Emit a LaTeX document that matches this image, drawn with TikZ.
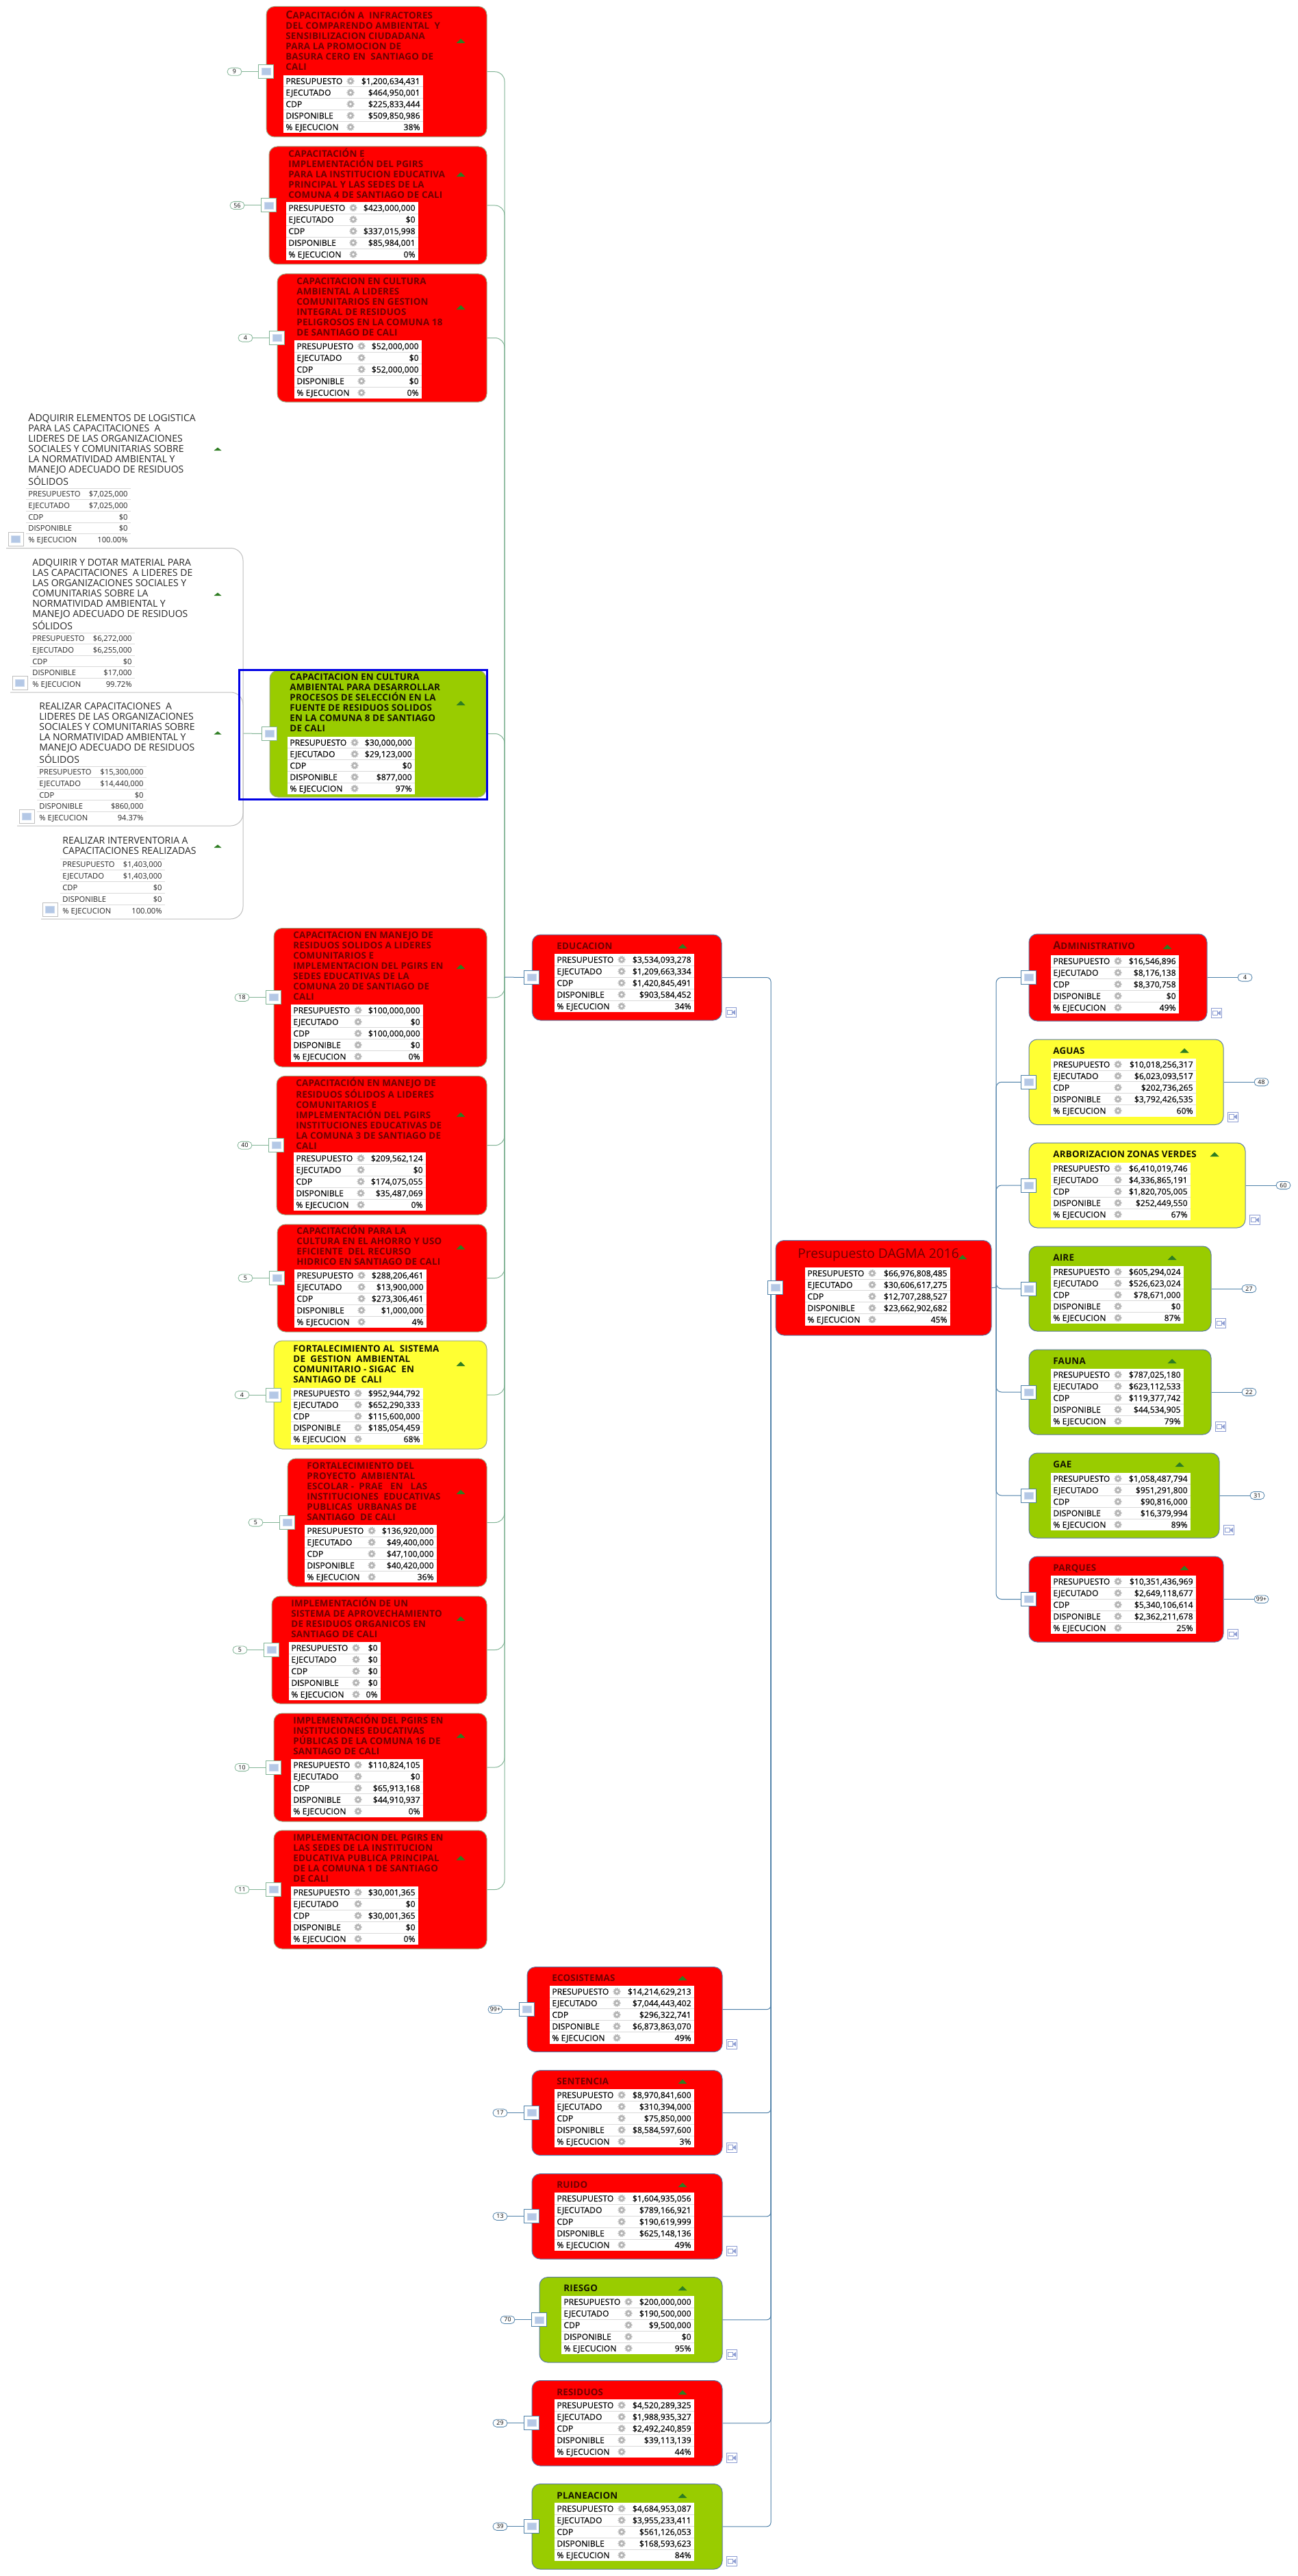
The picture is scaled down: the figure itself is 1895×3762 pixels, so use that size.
\documentclass[tikz,border=0pt]{standalone}
\usepackage{fontspec}
\setmainfont{Open Sans}
\newfontfamily\rowbold[FakeBold=0.3]{Open Sans}
\newfontfamily\titbold[LetterSpace=1.5]{Open Sans}
\usetikzlibrary{fit,backgrounds}
\definecolor{cred}{HTML}{FF0000}
\definecolor{cgreen}{HTML}{99CC00}
\definecolor{cyellow}{HTML}{FFFF33}
\definecolor{lnkG}{HTML}{82B496}
\definecolor{lnkB}{HTML}{4F81A9}
\definecolor{bordG}{HTML}{9CA884}
\definecolor{bordB}{HTML}{5A7AA6}
\definecolor{grayl}{HTML}{BEBEBE}
\definecolor{sepc}{HTML}{D9D9D9}
\definecolor{gearc}{HTML}{B5B5B5}
\definecolor{titred}{HTML}{6E0000}
\definecolor{titblk}{HTML}{141400}
\definecolor{caretc}{HTML}{2E7D22}
\definecolor{iconc}{HTML}{B4C8E6}
\definecolor{vidc}{HTML}{8C9CD2}
\colorlet{branch}{lnkG}
\colorlet{bordc}{bordG}
\tikzset{
 x=0.5pt,y=-0.5pt,
 cardbox/.style={draw=bordc,line width=0.5pt,rounded corners=6pt,inner sep=0pt},
 redcard/.style={cardbox,fill=cred},
 greencard/.style={cardbox,fill=cgreen},
 yellowcard/.style={cardbox,fill=cyellow},
 handlebox/.style={draw=branch,fill=white,line width=0.5pt,minimum width=11pt,minimum height=10pt,inner sep=0pt},
 handleicon/.style={fill=iconc,draw=iconc!70!white,line width=0.3pt,minimum width=6.5pt,minimum height=5pt,inner sep=0pt},
 bubblebox/.style={draw=branch,fill=white,line width=0.4pt,rounded corners=2.8pt,minimum width=10.5pt,minimum height=5.6pt,inner sep=0pt,font=\fontsize{4.4pt}{5pt}\selectfont},
 lnk/.style={draw=branch,line width=0.5pt},
 lnkcurve/.style={lnk,rounded corners=7pt},
 lnkcorner/.style={lnk,rounded corners=3pt},
 graylnk/.style={draw=grayl,line width=0.5pt,rounded corners=9pt},
 titletext/.style={anchor=north west,align=left,inner sep=0pt,font=\fontsize{6.7pt}{7.5pt}\titbold\bfseries},
 redt/.style={titletext,text=titred},
 blackt/.style={titletext,text=titblk},
 plaint/.style={titletext,text=black!85,font=\fontsize{7pt}{7.5pt}\selectfont},
 rowlab/.style={anchor=base west,inner sep=0pt,font=\fontsize{6.1pt}{7pt}\rowbold,text=black},
 rowval/.style={anchor=base east,inner sep=0pt,font=\fontsize{6.1pt}{7pt}\rowbold,text=black},
 rowlabp/.style={anchor=base west,inner sep=0pt,font=\fontsize{5.6pt}{7pt}\selectfont,text=black!85},
 rowvalp/.style={anchor=base east,inner sep=0pt,font=\fontsize{5.6pt}{7pt}\selectfont,text=black!85},
 selbox/.style={draw=blue!90!black,line width=1.5pt,inner sep=0pt},
 vidbox/.style={draw=vidc,fill=white,line width=0.5pt,minimum width=7.5pt,minimum height=7pt,inner sep=0pt},
}
\newif\ifgear
\newcommand{\BigL}[1]{{\fontsize{8pt}{7.5pt}\selectfont #1}}
\newcommand{\RowOne}[3]{%
 \pgfmathsetmacro\rc{\ty+(#1-0.5)*\rh}
 \pgfmathsetmacro\rb{\rc+4.5}
 \ifgear
  \node[rowlab] (\tid-l#1) at (\tl+3,\rb) {#2};
  \node[rowval] (\tid-v#1) at (\tr-4,\rb) {#3};
  \fill[gearc] (\tl+98,\rc) circle (2.3pt);
  \draw[gearc,line width=0.5pt,dash pattern=on 0.8pt off 0.7pt] (\tl+98,\rc) circle (2.55pt);
  \fill[white] (\tl+98,\rc) circle (0.9pt);
 \else
  \node[rowlabp] (\tid-l#1) at (\tl+3,\rb) {#2};
  \node[rowvalp] (\tid-v#1) at (\tr-4,\rb) {#3};
 \fi
 \ifnum#1<5
  \draw[sepc,line width=0.4pt] (\tl,\rc+0.5*\rh) -- (\tr,\rc+0.5*\rh);
 \fi
}
\def\RowFive#1|#2|#3|#4|#5\relax{%
 \RowOne{1}{PRESUPUESTO}{#1}
 \RowOne{2}{EJECUTADO}{#2}
 \RowOne{3}{CDP}{#3}
 \RowOne{4}{DISPONIBLE}{#4}
 \RowOne{5}{\% EJECUCION}{#5}
}
% id, x0,x1,y0,y1, values
\newcommand{\Tbl}[6]{%
 \def\tid{#1}\def\tl{#2}\def\tr{#3}\def\ty{#4}
 \pgfmathsetmacro\rh{(#5-#4)/5}
 \ifgear\fill[white] (#2,#4) rectangle (#3,#5);\else
  \draw[sepc,line width=0.4pt] (#2,#4) -- (#3,#4);\fi
 \RowFive#6\relax
}
% id, style, x0,y0,x1,y1, caretx, carety
\newcommand{\Card}[8]{%
 \node[#2,fit={(#3,#4)(#5,#6)}] (#1) {};
 \node[handlebox] (#1-h) at (#1.west) {};
 \node[handleicon] (#1-i) at (#1-h) {};
 \fill[caretc] (#7-6.5,#8+3) -- (#7,#8-3.5) -- (#7+6.5,#8+3) -- cycle;
}
% id, style, x, y of first line centre, text
\newcommand{\Title}[5]{\node[#2] (#1-t) at (#3,#4-11) {\rule{0pt}{8pt}#5};}
\newcommand{\BubL}[2]{%
 \node[bubblebox] (#1-b) at ([xshift=-23pt]#1.west) {#2};
 \draw[lnk] (#1-b) -- (#1-h);
}
\newcommand{\BubR}[2]{%
 \node[bubblebox] (#1-b) at ([xshift=27.5pt]#1.east) {#2};
 \draw[lnk] (#1.east) -- (#1-b);
}
\newcommand{\Vid}[1]{%
 \node[vidbox] (#1-vi) at ([xshift=6.5pt,yshift=6pt]#1.south east) {};
 \draw[vidc,line width=0.5pt] ([xshift=-2.6pt,yshift=-1.6pt]#1-vi.center) rectangle ([xshift=0.8pt,yshift=1.6pt]#1-vi.center);
 \fill[vidc] ([xshift=0.8pt]#1-vi.center) -- ([xshift=3.2pt,yshift=1.8pt]#1-vi.center) -- ([xshift=3.2pt,yshift=-1.8pt]#1-vi.center) -- cycle;
}
% left free item: id, title x, first line y, caret y, table x0,x1,y0,y1, text
\newcommand{\Item}[9]{%
 \Title{#1}{plaint}{#2}{#3}{#9}
 \fill[caretc] (318-5.5,#4+2) -- (318,#4-2.5) -- (318+5.5,#4+2) -- cycle;
 \node[handlebox,draw=grayl] (#1-h) at (#5-15,#8-9.5) {};
 \node[handleicon] (#1-i) at (#1-h) {};
}
\begin{document}
\begin{tikzpicture}
\begin{pgfonlayer}{background}
\fill[white] (0,0) rectangle (1895,3762);
\end{pgfonlayer}
\path[use as bounding box] (0,0) rectangle (1895,3762);
\geartrue
%% left green branch
\Card{c1}{redcard}{389}{9.5}{711}{200}{673}{60}
\Title{c1}{redt}{417}{21.7}{\BigL{C}APACITACIÓN A\ \ INFRACTORES\\DEL COMPARENDO AMBIENTAL\ \ Y\\SENSIBILIZACION CIUDADANA\\PARA LA PROMOCION DE\\BASURA CERO EN\ \ SANTIAGO DE\\CALI}
\Tbl{c1}{414}{618}{110}{194}{\$1,200,634,431|\$464,950,001|\$225,833,444|\$509,850,986|38\%}
\BubL{c1}{9}
\Card{c2}{redcard}{393}{214}{711}{386}{673}{255}
\Title{c2}{redt}{421}{224}{CAPACITACIÓN E\\IMPLEMENTACIÓN DEL PGIRS\\PARA LA INSTITUCION EDUCATIVA\\PRINCIPAL Y LAS SEDES DE LA\\COMUNA 4 DE SANTIAGO DE CALI}
\Tbl{c2}{418}{611}{295}{380}{\$423,000,000|\$0|\$337,015,998|\$85,984,001|0\%}
\BubL{c2}{56}
\Card{c3}{redcard}{405}{400}{711}{587}{673}{449}
\Title{c3}{redt}{433}{410}{CAPACITACION EN CULTURA\\AMBIENTAL A LIDERES\\COMUNITARIOS EN GESTION\\INTEGRAL DE RESIDUOS\\PELIGROSOS EN LA COMUNA 18\\DE SANTIAGO DE CALI}
\Tbl{c3}{430}{616}{497}{582}{\$52,000,000|\$0|\$52,000,000|\$0|0\%}
\BubL{c3}{4}
\Card{c4}{greencard}{394}{979}{710}{1164}{673}{1027}
\Title{c4}{blackt}{423}{988}{CAPACITACION EN CULTURA\\AMBIENTAL PARA DESARROLLAR\\PROCESOS DE SELECCIÓN EN LA\\FUENTE DE RESIDUOS SOLIDOS\\EN LA COMUNA 8 DE SANTIAGO\\DE CALI}
\Tbl{c4}{420}{606}{1076}{1160}{\$30,000,000|\$29,123,000|\$0|\$877,000|97\%}
\node[selbox,fit={(349,978)(711,1167)}] (sel) {};
\Card{c5}{redcard}{400}{1355.5}{711}{1558}{673}{1412}
\Title{c5}{redt}{428}{1365}{CAPACITACION EN MANEJO DE\\RESIDUOS SOLIDOS A LIDERES\\COMUNITARIOS E\\IMPLEMENTACION DEL PGIRS EN\\SEDES EDUCATIVAS DE LA\\COMUNA 20 DE SANTIAGO DE\\CALI}
\Tbl{c5}{425}{618}{1467}{1551.4}{\$100,000,000|\$0|\$100,000,000|\$0|0\%}
\BubL{c5}{18}
\Card{c6}{redcard}{404}{1571.4}{711}{1774}{673}{1628}
\Title{c6}{redt}{432}{1581}{CAPACITACIÓN EN MANEJO DE\\RESIDUOS SÓLIDOS A LIDERES\\COMUNITARIOS E\\IMPLEMENTACIÓN DEL PGIRS\\INSTITUCIONES EDUCATIVAS DE\\LA COMUNA 3 DE SANTIAGO DE\\CALI}
\Tbl{c6}{429}{622}{1683}{1768}{\$209,562,124|\$0|\$174,075,055|\$35,487,069|0\%}
\BubL{c6}{40}
\Card{c7}{redcard}{405}{1788}{711}{1945}{673}{1821.6}
\Title{c7}{redt}{433}{1797}{CAPACITACIÓN PARA LA\\CULTURA EN EL AHORRO Y USO\\EFICIENTE\ \ DEL RECURSO\\HIDRICO EN SANTIAGO DE CALI}
\Tbl{c7}{430}{623}{1854}{1939}{\$288,206,461|\$13,900,000|\$273,306,461|\$1,000,000|4\%}
\BubL{c7}{5}
\Card{c8}{yellowcard}{400}{1958}{711}{2116}{673}{1992}
\Title{c8}{blackt}{428}{1968.6}{FORTALECIMIENTO AL\ \ SISTEMA\\DE\ \ GESTION\ \ AMBIENTAL\\COMUNITARIO - SIGAC\ \ EN\\SANTIAGO DE\ \ CALI}
\Tbl{c8}{425}{618}{2026.5}{2110}{\$952,944,792|\$652,290,333|\$115,600,000|\$185,054,459|68\%}
\BubL{c8}{4}
\Card{c9}{redcard}{420}{2130}{711}{2317}{673}{2179}
\Title{c9}{redt}{448}{2139.6}{FORTALECIMIENTO DEL\\PROYECTO\ \ AMBIENTAL\\ESCOLAR -\ \ PRAE\ \ \ EN\ \ \ LAS\\INSTITUCIONES\ \ EDUCATIVAS\\PUBLICAS\ \ URBANAS DE\\SANTIAGO\ \ DE CALI}
\Tbl{c9}{445}{638}{2227}{2311.4}{\$136,920,000|\$49,400,000|\$47,100,000|\$40,420,000|36\%}
\BubL{c9}{5}
\Card{c10}{redcard}{397}{2331}{711}{2488}{673}{2364}
\Title{c10}{redt}{425}{2341}{IMPLEMENTACIÓN DE UN\\SISTEMA DE APROVECHAMIENTO\\DE RESIDUOS ORGANICOS EN\\SANTIAGO DE CALI}
\Tbl{c10}{422}{556}{2398}{2483}{\$0|\$0|\$0|\$0|0\%}
\BubL{c10}{5}
\Card{c11}{redcard}{400}{2502}{711}{2660}{673}{2535}
\Title{c11}{redt}{428}{2512}{IMPLEMENTACIÓN DEL PGIRS EN\\INSTITUCIONES EDUCATIVAS\\PÚBLICAS DE LA COMUNA 16 DE\\SANTIAGO DE CALI}
\Tbl{c11}{425}{618}{2569}{2653.6}{\$110,824,105|\$0|\$65,913,168|\$44,910,937|0\%}
\BubL{c11}{10}
\Card{c12}{redcard}{400}{2673}{711}{2846}{673}{2713.6}
\Title{c12}{redt}{428}{2683}{IMPLEMENTACION DEL PGIRS EN\\LAS SEDES DE LA INSTITUCION\\EDUCATIVA PUBLICA PRINCIPAL\\DE LA COMUNA 1 DE SANTIAGO\\DE CALI}
\Tbl{c12}{425}{611}{2755}{2840}{\$30,001,365|\$0|\$30,001,365|\$0|0\%}
\BubL{c12}{11}
\coordinate (jG) at (737,1427);
\coordinate (jL) at (355,1071);
\begin{pgfonlayer}{background}
\foreach \n in {c1,c2,c3,c4,c5,c6,c7,c8,c9,c10,c11,c12} {\draw[lnkcurve] (\n.east) -| (jG);}
\draw[lnk] (c4-h.west) -- (jL);
\end{pgfonlayer}
%% free left items
\gearfalse
\Item{la}{41}{610}{656}{38}{191}{713}{796.5}{\BigL{A}DQUIRIR ELEMENTOS DE LOGISTICA\\PARA LAS CAPACITACIONES\ \ A\\LIDERES DE LAS ORGANIZACIONES\\SOCIALES Y COMUNITARIAS SOBRE\\LA NORMATIVIDAD AMBIENTAL Y\\MANEJO ADECUADO DE RESIDUOS\\SÓLIDOS}
\Tbl{la}{38}{191}{713}{796.5}{\$7,025,000|\$7,025,000|\$0|\$0|100.00\%}
\Item{lb}{47}{821}{868}{44}{197}{924}{1007}{ADQUIRIR Y DOTAR MATERIAL PARA\\LAS CAPACITACIONES\ \ A LIDERES DE\\LAS ORGANIZACIONES SOCIALES Y\\COMUNITARIAS SOBRE LA\\NORMATIVIDAD AMBIENTAL Y\\MANEJO ADECUADO DE RESIDUOS\\SÓLIDOS}
\Tbl{lb}{44}{197}{924}{1007}{\$6,272,000|\$6,255,000|\$0|\$17,000|99.72\%}
\Item{lc}{57}{1031}{1070.6}{54}{214}{1119}{1202}{REALIZAR CAPACITACIONES\ \ A\\LIDERES DE LAS ORGANIZACIONES\\SOCIALES Y COMUNITARIAS SOBRE\\LA NORMATIVIDAD AMBIENTAL Y\\MANEJO ADECUADO DE RESIDUOS\\SÓLIDOS}
\Tbl{lc}{54}{214}{1119}{1202}{\$15,300,000|\$14,440,000|\$0|\$860,000|94.37\%}
\Item{ld}{91}{1227}{1236}{88}{241}{1254}{1338}{REALIZAR INTERVENTORIA A\\CAPACITACIONES REALIZADAS}
\Tbl{ld}{88}{241}{1254}{1338}{\$1,403,000|\$1,403,000|\$0|\$0|100.00\%}
\coordinate (la-u) at (9,800.5);
\coordinate (lb-u) at (15,1011);
\coordinate (lc-u) at (25,1206);
\coordinate (ld-u) at (60,1342);
\begin{pgfonlayer}{background}
\foreach \n in {la,lb,lc,ld} {\draw[graylnk] (\n-u) -| (jL);}
\end{pgfonlayer}
%% blue branches
\geartrue
\colorlet{branch}{lnkB}
\colorlet{bordc}{bordB}
\Card{edu}{redcard}{777.4}{1365}{1054}{1490}{997}{1382}
\Title{edu}{redt}{813}{1381}{EDUCACION}
\Tbl{edu}{810}{1014}{1393}{1478}{\$3,534,093,278|\$1,209,663,334|\$1,420,845,491|\$903,584,452|34\%}
\Vid{edu}
\Card{root}{redcard}{1133}{1811.5}{1448}{1950}{1406}{1836}
\node[redt,font=\fontsize{9.6pt}{10pt}\selectfont] (root-t) at (1165,1823) {Presupuesto DAGMA 2016};
\Tbl{root}{1176}{1388}{1851}{1935.5}{\$66,976,808,485|\$30,606,617,275|\$12,707,288,527|\$23,662,902,682|45\%}
%% lower cards
\Card{e1}{redcard}{770}{2872.6}{1055}{2996.6}{997}{2889}
\Title{e1}{redt}{806}{2888}{ECOSISTEMAS}
\Tbl{e1}{803}{1014}{2900}{2984.6}{\$14,214,629,213|\$7,044,443,402|\$296,322,741|\$6,873,863,070|49\%}
\BubL{e1}{99+}\Vid{e1}
\Card{e2}{redcard}{777}{3023.6}{1055}{3147.6}{997}{3040}
\Title{e2}{redt}{813}{3039}{SENTENCIA}
\Tbl{e2}{810}{1014}{3051}{3136}{\$8,970,841,600|\$310,394,000|\$75,850,000|\$8,584,597,600|3\%}
\BubL{e2}{17}\Vid{e2}
\Card{e3}{redcard}{777}{3174.6}{1055}{3299}{997}{3191}
\Title{e3}{redt}{813}{3190}{RUIDO}
\Tbl{e3}{810}{1014}{3202}{3287}{\$1,604,935,056|\$789,166,921|\$190,619,999|\$625,148,136|49\%}
\BubL{e3}{13}\Vid{e3}
\Card{e4}{greencard}{788}{3325.6}{1055}{3450}{997}{3342}
\Title{e4}{blackt}{823}{3341}{RIESGO}
\Tbl{e4}{820}{1014}{3353}{3438}{\$200,000,000|\$190,500,000|\$9,500,000|\$0|95\%}
\BubL{e4}{70}\Vid{e4}
\Card{e5}{redcard}{777}{3476.5}{1055}{3601}{997}{3494}
\Title{e5}{redt}{813}{3492.6}{RESIDUOS}
\Tbl{e5}{810}{1014}{3504}{3589}{\$4,520,289,325|\$1,988,935,327|\$2,492,240,859|\$39,113,139|44\%}
\BubL{e5}{29}\Vid{e5}
\Card{e6}{greencard}{777}{3627.5}{1055}{3752}{997}{3645}
\Title{e6}{blackt}{813}{3643.6}{PLANEACION}
\Tbl{e6}{810}{1014}{3655}{3740}{\$4,684,953,087|\$3,955,233,411|\$561,126,053|\$168,593,623|84\%}
\BubL{e6}{39}\Vid{e6}
%% right cards
\Card{a1}{redcard}{1503}{1364}{1763}{1491}{1705}{1383}
\Title{a1}{redt}{1538}{1381.5}{\BigL{A}DMINISTRATIVO}
\Tbl{a1}{1535}{1722}{1395}{1480}{\$16,546,896|\$8,176,138|\$8,370,758|\$0|49\%}
\BubR{a1}{4}\Vid{a1}
\Card{a2}{yellowcard}{1503}{1518}{1787}{1642.5}{1730}{1534.5}
\Title{a2}{blackt}{1538}{1534}{AGUAS}
\Tbl{a2}{1535}{1747}{1546}{1630.6}{\$10,018,256,317|\$6,023,093,517|\$202,736,265|\$3,792,426,535|60\%}
\BubR{a2}{48}\Vid{a2}
\Card{a3}{yellowcard}{1503}{1669}{1819}{1793}{1774}{1686}
\Title{a3}{blackt}{1538}{1685}{ARBORIZACION ZONAS VERDES}
\Tbl{a3}{1535}{1739}{1698}{1782}{\$6,410,019,746|\$4,336,865,191|\$1,820,705,005|\$252,449,550|67\%}
\BubR{a3}{60}\Vid{a3}
\Card{a4}{greencard}{1503}{1820}{1769}{1944}{1712}{1837}
\Title{a4}{blackt}{1538}{1836}{AIRE}
\Tbl{a4}{1535}{1729}{1849}{1933}{\$605,294,024|\$526,623,024|\$78,671,000|\$0|87\%}
\BubR{a4}{27}\Vid{a4}
\Card{a5}{greencard}{1503}{1971}{1769}{2095}{1712}{1988}
\Title{a5}{blackt}{1538}{1987}{FAUNA}
\Tbl{a5}{1535}{1729}{1999}{2084}{\$787,025,180|\$623,112,533|\$119,377,742|\$44,534,905|79\%}
\BubR{a5}{22}\Vid{a5}
\Card{a6}{greencard}{1503}{2122}{1781}{2246}{1723}{2139}
\Title{a6}{blackt}{1538}{2138}{GAE}
\Tbl{a6}{1535}{1739}{2151}{2235}{\$1,058,487,794|\$951,291,800|\$90,816,000|\$16,379,994|89\%}
\BubR{a6}{31}\Vid{a6}
\Card{a7}{redcard}{1503}{2273}{1787}{2398}{1730}{2290}
\Title{a7}{redt}{1538}{2289}{PARQUES}
\Tbl{a7}{1535}{1747}{2301}{2386}{\$10,351,436,969|\$2,649,118,677|\$5,340,106,614|\$2,362,211,678|25\%}
\BubR{a7}{99+}\Vid{a7}
\coordinate (jB) at (1126,1880);
\coordinate (jR) at (1455,1880);
\begin{pgfonlayer}{background}
\draw[lnk] (jG) -- (edu-h.west);
\foreach \n in {edu,e1,e2,e3,e4,e5,e6} {\draw[lnkcorner] (\n.east) -| (jB);}
\draw[lnk] (jB) -- (root-h.west);
\draw[lnk] (root.east) -- (jR);
\foreach \n in {a1,a2,a3,a4,a5,a6,a7} {\draw[lnk,rounded corners=4pt] (\n-h.west) -| (jR);}
\end{pgfonlayer}
\end{tikzpicture}
\end{document}
